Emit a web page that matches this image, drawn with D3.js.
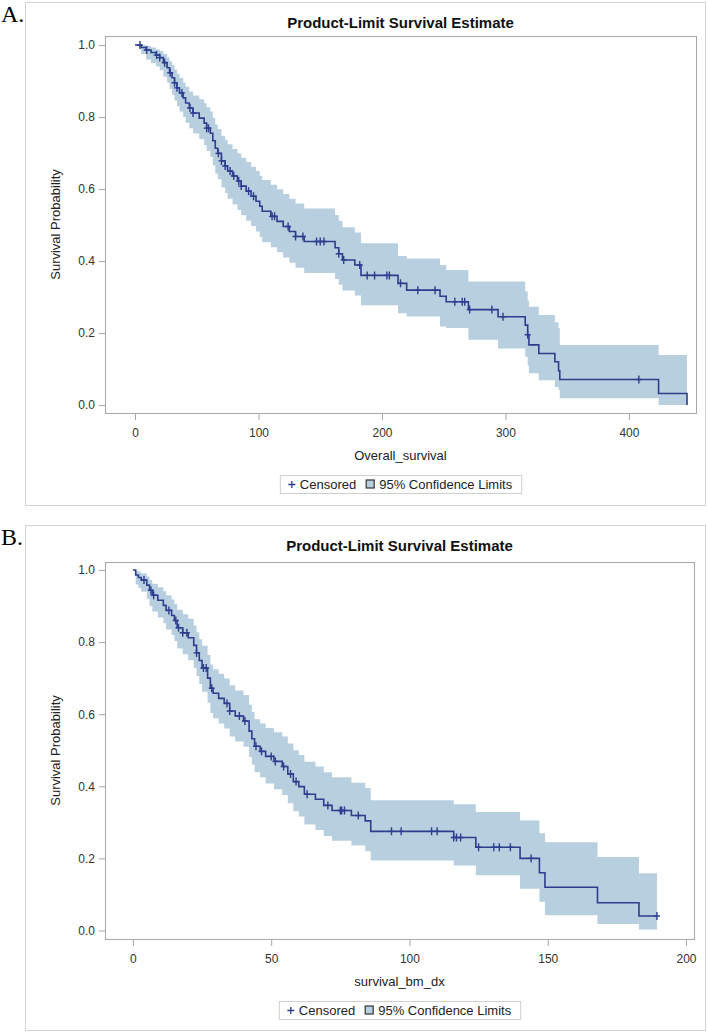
<!DOCTYPE html>
<html>
<head>
<meta charset="utf-8">
<script src="https://cdn.jsdelivr.net/npm/d3@7"></script>
<style>
body { margin: 0; background: #fff; }
text { font-family: "Liberation Sans", Arial, sans-serif; }
</style>
</head>
<body>
<svg id="chart" width="708" height="1032"></svg>
<script>
// panel A: Overall_survival
const timesA = [0,5,9,13,17,20,23,26,28,30,32,34,36,39,41,44,47,52,56,58,61,63,65,67,70,73,75,79,83,86,90,94,98,101,103,110,115,120,125,130,137,162,165,168,178,183,213,220,247,252,270,294,316,318,319,327,340,343,344,424,447];
const survA = [1,0.993,0.986,0.979,0.972,0.965,0.951,0.937,0.923,0.909,0.895,0.881,0.867,0.853,0.839,0.825,0.811,0.797,0.783,0.769,0.755,0.734,0.713,0.699,0.678,0.664,0.650,0.636,0.622,0.608,0.594,0.580,0.566,0.552,0.538,0.524,0.510,0.496,0.482,0.468,0.454,0.437,0.420,0.403,0.389,0.360,0.338,0.319,0.302,0.287,0.265,0.245,0.222,0.195,0.167,0.143,0.120,0.095,0.071,0.032,0];
const lowerA = [1,0.975,0.96,0.95,0.94,0.93,0.912,0.895,0.878,0.862,0.846,0.83,0.815,0.80,0.784,0.769,0.754,0.738,0.722,0.706,0.689,0.666,0.643,0.627,0.604,0.589,0.573,0.557,0.542,0.527,0.512,0.497,0.482,0.467,0.452,0.438,0.424,0.41,0.395,0.381,0.367,0.35,0.334,0.318,0.304,0.277,0.255,0.246,0.218,0.214,0.181,0.157,0.134,0.11,0.088,0.069,0.05,0.042,0.019,0,0];
const upperA = [1,1,0.997,0.993,0.988,0.983,0.975,0.965,0.955,0.944,0.932,0.92,0.908,0.896,0.884,0.871,0.86,0.849,0.838,0.827,0.815,0.797,0.779,0.767,0.748,0.736,0.724,0.711,0.699,0.687,0.675,0.662,0.65,0.637,0.625,0.612,0.599,0.586,0.573,0.56,0.546,0.528,0.511,0.494,0.479,0.449,0.414,0.407,0.389,0.375,0.343,0.343,0.315,0.29,0.273,0.25,0.23,0.213,0.167,0.139,0.139];
const censoredA = [4,9.5,17.5,20,24,28.5,32,34,38,44.5,47,58,59.5,67.5,70,73,77,80,84,86,92,96,111,113,124,130,136,147,150,153,165,169,182,188,194,204,206,215,229,243,259,265,267,271,289,298,318,408];
const xTicksA = [0,100,200,300,400];

// panel B: survival_bm_dx
const timesB = [0,1,2,3,5,6,7,9,11,12,14,15,16,18,20,22,23,24,25,27,28,29,31,33,35,37,40,42,43,44,46,48,51,54,56,58,60,62,66,69,72,79,84,86,116,124,140,147,149,168,183,189.5];
const survB = [1,0.986,0.979,0.972,0.958,0.944,0.930,0.916,0.902,0.888,0.874,0.860,0.840,0.826,0.812,0.791,0.770,0.749,0.728,0.700,0.672,0.658,0.644,0.630,0.609,0.595,0.581,0.553,0.532,0.511,0.497,0.483,0.469,0.455,0.434,0.413,0.399,0.378,0.364,0.347,0.333,0.319,0.304,0.275,0.258,0.231,0.200,0.160,0.120,0.077,0.040,0.040];
const lowerB = [1,0.96,0.95,0.94,0.92,0.90,0.885,0.868,0.852,0.835,0.82,0.803,0.782,0.766,0.75,0.728,0.706,0.684,0.662,0.632,0.603,0.589,0.574,0.56,0.538,0.524,0.51,0.481,0.46,0.439,0.425,0.408,0.392,0.376,0.353,0.331,0.316,0.294,0.279,0.262,0.249,0.236,0.22,0.194,0.18,0.153,0.116,0.08,0.042,0.018,0.003,0.003];
const upperB = [1,0.998,0.995,0.99,0.982,0.972,0.962,0.952,0.941,0.93,0.918,0.906,0.89,0.877,0.865,0.846,0.827,0.808,0.79,0.764,0.738,0.725,0.712,0.699,0.68,0.666,0.653,0.626,0.606,0.586,0.574,0.562,0.55,0.538,0.519,0.5,0.487,0.468,0.455,0.439,0.425,0.41,0.395,0.361,0.35,0.329,0.305,0.27,0.245,0.204,0.159,0.159];
const censoredB = [4,6.5,7.5,13,15.5,16.5,18,19.5,23,25.5,26.5,28.5,34,35,38.5,40.5,44.5,46.5,50,51.5,54.5,57,59,63,70.5,75,75.5,76.5,81.5,93.5,97,108,110,116,117,118.5,125,130.5,132.5,136.5,144,189.5];
const xTicksB = [0,50,100,150,200];

const yTicks = [0,0.2,0.4,0.6,0.8,1.0];

const lineColor = '#2c3e8e';
const bandColor = '#b8cfdf';
const frameColor = '#a8a8a8';

const svg = d3.select('#chart');

const panels = [
    {
        label: 'A.', top: 2, bottom: 505,
        plot: {left: 105, right: 696, top: 36, bottom: 413},
        xDomain: [-24.3, 454.3], yDomain: [-0.0222, 1.025],
        xTicks: xTicksA, xLabel: 'Overall_survival',
        times: timesA, surv: survA, lower: lowerA, upper: upperA, censored: censoredA
    },
    {
        label: 'B.', top: 525, bottom: 1030,
        plot: {left: 105, right: 694, top: 562, bottom: 939},
        xDomain: [-10.1, 202.9], yDomain: [-0.0236, 1.0222],
        xTicks: xTicksB, xLabel: 'survival_bm_dx',
        times: timesB, surv: survB, lower: lowerB, upper: upperB, censored: censoredB
    }
];

panels.forEach(drawPanel);

function drawPanel(p) {
    const g = svg.append('g');

    // outer frame
    g.append('rect')
        .attr('x', 25.5).attr('y', p.top + 0.5)
        .attr('width', 680).attr('height', p.bottom - p.top)
        .attr('fill', 'none').attr('stroke', '#d4d4d4');

    // panel letter
    g.append('text')
        .attr('x', 1).attr('y', p.top + 20)
        .style('font-family', '"Liberation Serif", "Times New Roman", serif')
        .style('font-size', '24px')
        .attr('fill', '#000')
        .text(p.label);

    const x = d3.scaleLinear().domain(p.xDomain).range([p.plot.left, p.plot.right]);
    const y = d3.scaleLinear().domain(p.yDomain).range([p.plot.bottom, p.plot.top]);
    const midX = (p.plot.left + p.plot.right) / 2;

    // title
    g.append('text')
        .attr('x', midX).attr('y', p.top + 26)
        .attr('text-anchor', 'middle')
        .style('font-size', '15px').style('font-weight', 'bold')
        .attr('fill', '#111')
        .text('Product-Limit Survival Estimate');

    const rows = p.times.map((t, i) => ({t: t, s: p.surv[i], lo: p.lower[i], hi: p.upper[i]}));

    // confidence band
    const band = d3.area()
        .curve(d3.curveStepAfter)
        .x(d => x(d.t))
        .y0(d => y(d.lo))
        .y1(d => y(d.hi));
    g.append('path')
        .datum(rows)
        .attr('d', band)
        .attr('fill', bandColor);

    // survival step line
    const line = d3.line()
        .curve(d3.curveStepAfter)
        .x(d => x(d.t))
        .y(d => y(d.s));
    g.append('path')
        .datum(rows)
        .attr('d', line)
        .attr('fill', 'none')
        .attr('stroke', lineColor)
        .attr('stroke-width', 1.6);

    // censored marks
    function survAt(t) {
        const i = d3.bisectRight(p.times, t) - 1;
        return p.surv[Math.max(0, i)];
    }
    g.selectAll('path.cens')
        .data(p.censored)
        .enter()
        .append('path')
        .attr('class', 'cens')
        .attr('transform', d => 'translate(' + x(d) + ',' + y(survAt(d)) + ')')
        .attr('d', 'M-3,0H3M0,-4V4')
        .attr('stroke', lineColor)
        .attr('stroke-width', 1.4)
        .attr('fill', 'none');

    // plot frame
    g.append('rect')
        .attr('x', p.plot.left + 0.5).attr('y', p.plot.top + 0.5)
        .attr('width', p.plot.right - p.plot.left)
        .attr('height', p.plot.bottom - p.plot.top)
        .attr('fill', 'none').attr('stroke', frameColor);

    // axes
    const yAxis = g.append('g')
        .attr('transform', 'translate(' + p.plot.left + ',0)')
        .call(d3.axisLeft(y).tickValues(yTicks).tickFormat(d3.format('.1f')).tickSize(6).tickPadding(4));
    const xAxis = g.append('g')
        .attr('transform', 'translate(0,' + (p.plot.bottom + 1) + ')')
        .call(d3.axisBottom(x).tickValues(p.xTicks).tickSize(6).tickPadding(8));
    [xAxis, yAxis].forEach(a => {
        a.select('.domain').remove();
        a.selectAll('line').attr('stroke', frameColor);
        a.selectAll('text')
            .style('font-family', '"Liberation Sans", Arial, sans-serif')
            .style('font-size', '12px')
            .attr('fill', '#333');
    });

    // axis labels
    g.append('text')
        .attr('x', midX).attr('y', p.plot.bottom + 47)
        .attr('text-anchor', 'middle')
        .style('font-size', '13px').attr('fill', '#222')
        .text(p.xLabel);
    g.append('text')
        .attr('transform', 'translate(60,' + ((p.plot.top + p.plot.bottom) / 2) + ')rotate(-90)')
        .attr('text-anchor', 'middle')
        .style('font-size', '13px').attr('fill', '#222')
        .text('Survival Probability');

    // legend
    const leg = g.append('g');
    const legY = p.plot.bottom + 62;
    const box = leg.append('rect')
        .attr('fill', '#fff').attr('stroke', '#cfcfcf');
    const plus = leg.append('path')
        .attr('d', 'M-3.5,0H3.5M0,-3.5V3.5')
        .attr('stroke', lineColor).attr('stroke-width', 1.3);
    const t1 = leg.append('text').style('font-size', '13px').attr('fill', '#222').text('Censored');
    const sw = leg.append('rect').attr('width', 8).attr('height', 8)
        .attr('fill', bandColor).attr('stroke', '#333').attr('stroke-width', 1.2);
    const t2 = leg.append('text').style('font-size', '13px').attr('fill', '#222').text('95% Confidence Limits');

    const w1 = t1.node().getComputedTextLength();
    const w2 = t2.node().getComputedTextLength();
    const total = 8 + 4 + w1 + 10 + 9 + 5 + w2;
    const pad = 8;
    const x0 = midX - total / 2;
    const cy = legY + 9;
    box.attr('x', x0 - pad + 0.5).attr('y', legY + 0.5)
        .attr('width', total + 2 * pad).attr('height', 18);
    plus.attr('transform', 'translate(' + (x0 + 4) + ',' + (cy + 0.5) + ')');
    t1.attr('x', x0 + 12).attr('y', cy + 4.5);
    sw.attr('x', x0 + 12 + w1 + 10).attr('y', cy - 4);
    t2.attr('x', x0 + 12 + w1 + 10 + 13).attr('y', cy + 4.5);
}
</script>
</body>
</html>
